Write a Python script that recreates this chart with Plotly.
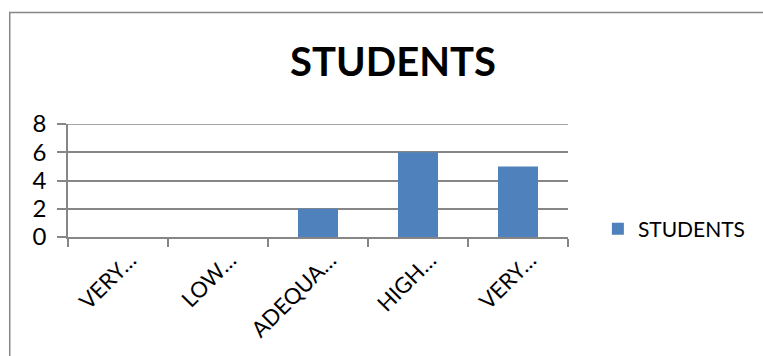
import plotly.graph_objects as go

categories = ["VERY LOW", "LOW", "ADEQUATE", "HIGH", "VERY HIGH"]
tick_labels = ["VERY…", "LOW…", "ADEQUA…", "HIGH…", "VERY…"]
students = [0, 0, 2, 6, 5]
y_ticks = [0, 2, 4, 6, 8]
series_name = "STUDENTS"
title_text = "STUDENTS"

W, H = 763, 356
L, R, T, B = 68, 193, 124, 119
pw, ph = W - L - R, H - T - B

def px_x(x):
    return (x - L) / pw

def px_y(y):
    return (H - B - y) / ph

fig = go.Figure()
fig.add_trace(go.Bar(
    x=categories, y=students, name=series_name,
    marker=dict(color="#4F81BD", line=dict(width=0)),
    showlegend=True,
))

font_family = "Lato, Open Sans, sans-serif"
grid_color = "#868686"
fig.update_layout(
    width=W, height=H,
    margin=dict(l=L, r=R, t=T, b=B, pad=0),
    paper_bgcolor="white", plot_bgcolor="white",
    font=dict(family=font_family, color="black"),
    title=dict(text="<b>" + title_text + "</b>", x=(393) / W, xanchor="center",
               y=1 - 62 / H, yanchor="middle",
               font=dict(size=40, family=font_family, color="black")),
    showlegend=True,
    legend=dict(x=px_x(600), xanchor="left", y=px_y(229), yanchor="middle",
                font=dict(size=21, family=font_family, color="black"),
                bgcolor="rgba(0,0,0,0)", itemwidth=30),
    xaxis=dict(
        type="category", tickmode="array", tickvals=categories,
        ticktext=tick_labels, tickangle=-45, showgrid=False, tickson="boundaries",
        showline=True, linecolor=grid_color, linewidth=1.5,
        ticks="outside", ticklen=8, tickcolor=grid_color, tickwidth=1.5,
        tickfont=dict(size=22, family=font_family, color="black"),
        zeroline=False, ticklabelshift=12,
    ),
    yaxis=dict(
        range=[0, max(y_ticks)], tickmode="array", tickvals=y_ticks,
        showgrid=True, gridcolor=grid_color, gridwidth=1.5,
        showline=True, linecolor=grid_color, linewidth=1.5,
        ticks="outside", ticklen=9, tickcolor=grid_color, tickwidth=1.5,
        tickfont=dict(size=24, family=font_family, color="black"),
        zeroline=False, ticklabelstandoff=6,
    ),
    bargap=0.6,
)

# top gridline (at the range edge) drawn explicitly
fig.add_shape(type="line", xref="paper", yref="y", x0=0, x1=1,
              y0=max(y_ticks), y1=max(y_ticks),
              line=dict(color=grid_color, width=1.5), layer="below")

# outer chart border
fig.add_shape(type="rect", xref="paper", yref="paper",
              x0=px_x(9.5), x1=px_x(770), y0=px_y(370), y1=px_y(12.5),
              line=dict(color=grid_color, width=1.5), fillcolor="rgba(0,0,0,0)",
              layer="below")

fig.write_html("out.html")
